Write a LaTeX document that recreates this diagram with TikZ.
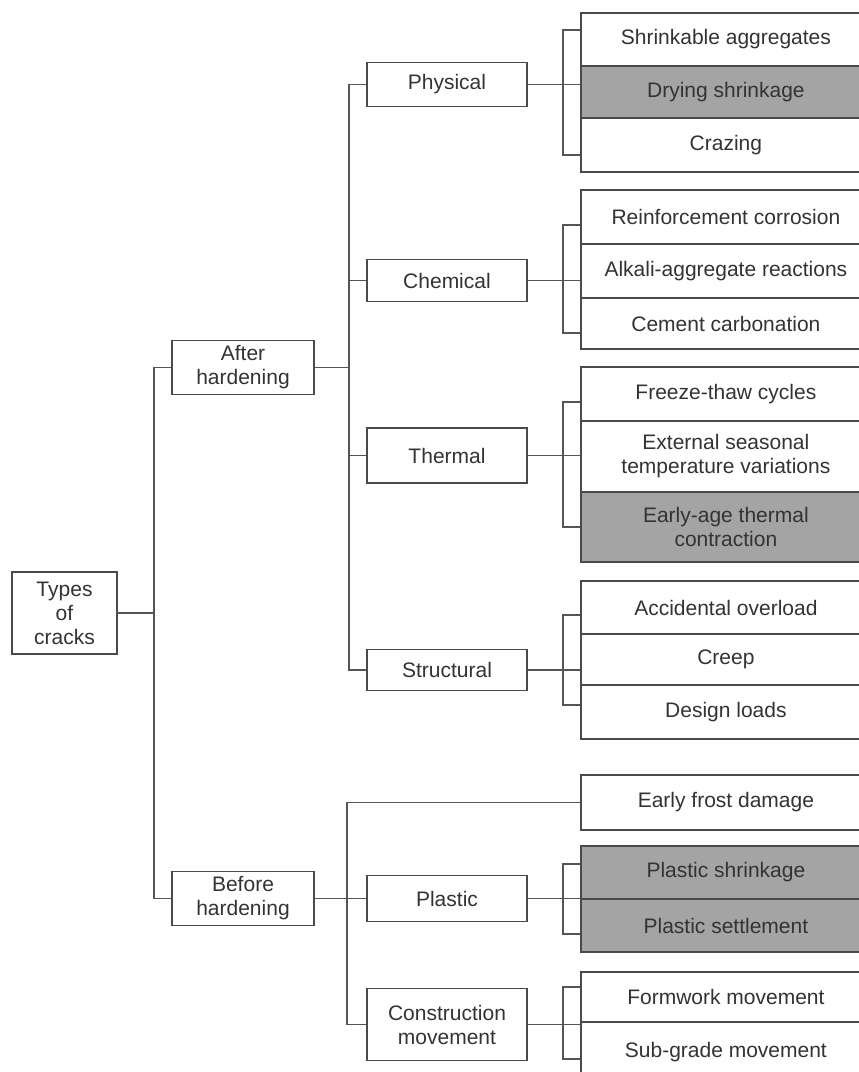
\documentclass[tikz,border=0pt]{standalone}
\usepackage{fontspec}
\setmainfont{Liberation Sans}
\definecolor{boxline}{HTML}{4A4A4A}
\definecolor{edge}{HTML}{555555}
\definecolor{shadegray}{HTML}{A4A4A4}
\definecolor{ink}{HTML}{333333}
\begin{document}
\begin{tikzpicture}[x=1pt,y=-1pt,
  box/.style={draw=boxline, line width=1.8pt, fill=white, text=ink, align=center,
    inner sep=0pt, font=\fontsize{21}{24}\selectfont},
  top/.style={box, minimum width=142pt, minimum height=54pt},
  mid/.style={box, minimum width=160pt},
  leaf/.style={box, anchor=west, minimum width=290pt},
  shade/.style={fill=shadegray},
  wire/.style={draw=edge, line width=1.4pt}]
\useasboundingbox (0,0) rectangle (859,1072);

% root and first level
\node[box, minimum width=105pt, minimum height=82pt] (types) at (64.5,613) {Types\\of\\cracks};
\node[top] (after) at (243,367.5) {After\\hardening};
\node[top] (before) at (243,898.5) {Before\\hardening};

% second level
\node[mid, minimum height=44pt] (physical) at (447,84.5) {Physical};
\node[mid, minimum height=42pt] (chemical) at (447,280.5) {Chemical};
\node[mid, minimum height=55pt] (thermal) at (447,455.5) {Thermal};
\node[mid, minimum height=41pt] (structural) at (447,670) {Structural};
\node[mid, minimum height=46pt] (plastic) at (447,898.5) {Plastic};
\node[mid, minimum height=72pt] (construction) at (447,1024.5) {Construction\\movement};

% physical causes
\node[leaf, minimum height=53pt] (l11) at (580,39.5) {Shrinkable aggregates};
\node[leaf, shade, minimum height=52pt] (l12) at (580,92) {Drying shrinkage};
\node[leaf, minimum height=54pt] (l13) at (580,145) {Crazing};
% chemical causes
\node[leaf, minimum height=54pt] (l21) at (580,217) {Reinforcement corrosion};
\node[leaf, minimum height=54pt] (l22) at (580,271) {Alkali-aggregate reactions};
\node[leaf, minimum height=51pt] (l23) at (580,323.5) {Cement carbonation};
% thermal causes
\node[leaf, minimum height=54pt] (l31) at (580,394) {Freeze-thaw cycles};
\node[leaf, minimum height=71pt] (l32) at (580,456.5) {External seasonal\\temperature variations};
\node[leaf, shade, minimum height=70pt] (l33) at (580,527) {Early-age thermal\\contraction};
% structural causes
\node[leaf, minimum height=53pt] (l41) at (580,607.5) {Accidental overload};
\node[leaf, minimum height=51pt] (l42) at (580,659.5) {Creep};
\node[leaf, minimum height=54pt] (l43) at (580,712) {Design loads};
% before hardening
\node[leaf, minimum height=55pt] (lf) at (580,802.5) {Early frost damage};
\node[leaf, shade, minimum height=53pt] (l51) at (580,872.5) {Plastic shrinkage};
\node[leaf, shade, minimum height=53pt] (l52) at (580,925.5) {Plastic settlement};
\node[leaf, minimum height=50pt] (l61) at (580,997) {Formwork movement};
\node[leaf, minimum height=60pt] (l62) at (580,1052) {Sub-grade movement};

% root to first level
\draw[wire] (types.east) -- ++(36,0) coordinate (j0) |- (after.west);
\draw[wire] (j0) |- (before.west);

% after hardening to its branches
\draw[wire] (after.east) -- ++(34,0) coordinate (j1) |- (physical.west);
\draw[wire] (j1) |- (chemical.west);
\draw[wire] (j1) |- (thermal.west);
\draw[wire] (j1) |- (structural.west);

% before hardening to its branches
\draw[wire] (before.east) -- ++(32,0) coordinate (j2) |- (lf.west);
\draw[wire] (j2) |- (plastic.west);
\draw[wire] (j2) |- (construction.west);

% second level to leaf groups
\draw[wire] (physical.east) -- (physical.east -| l11.west);
\draw[wire] (chemical.east) -- (chemical.east -| l21.west);
\draw[wire] (thermal.east) -- (thermal.east -| l31.west);
\draw[wire] (structural.east) -- (structural.east -| l41.west);
\draw[wire] (plastic.east) -- (plastic.east -| l51.west);
\draw[wire] (construction.east) -- (construction.east -| l61.west);

% brackets along each leaf group
\draw[wire] (l11.west |- 0,30) -- ++(-17,0) |- (l13.west |- 0,155);
\draw[wire] (l21.west |- 0,225) -- ++(-17,0) |- (l23.west |- 0,333);
\draw[wire] (l31.west |- 0,402) -- ++(-17,0) |- (l33.west |- 0,527);
\draw[wire] (l41.west |- 0,615) -- ++(-17,0) |- (l43.west |- 0,705);
\draw[wire] (l51.west |- 0,864) -- ++(-17,0) |- (l52.west |- 0,934);
\draw[wire] (l61.west |- 0,987) -- ++(-17,0) |- (l62.west |- 0,1059);
\end{tikzpicture}
\end{document}
